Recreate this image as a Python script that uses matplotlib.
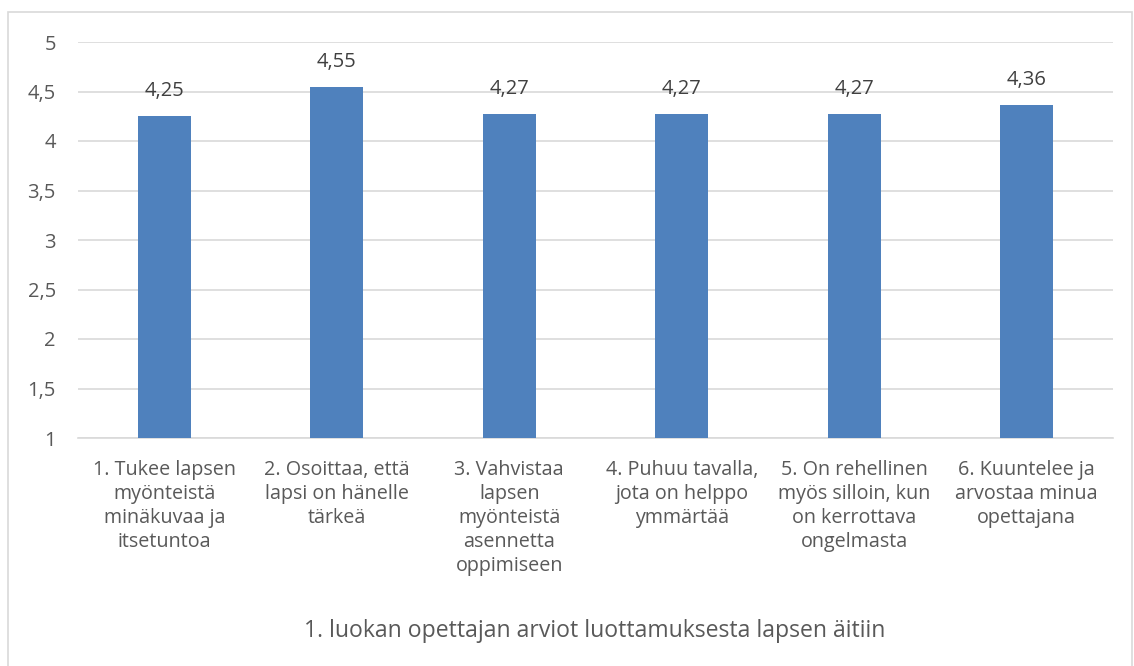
import matplotlib
matplotlib.use("Agg")
import matplotlib.pyplot as plt
from matplotlib.patches import Rectangle

categories = [
    "1. Tukee lapsen\nmyönteistä\nminäkuvaa ja\nitsetuntoa",
    "2. Osoittaa, että\nlapsi on hänelle\ntärkeä",
    "3. Vahvistaa\nlapsen\nmyönteistä\nasennetta\noppimiseen",
    "4. Puhuu tavalla,\njota on helppo\nymmärtää",
    "5. On rehellinen\nmyös silloin, kun\non kerrottava\nongelmasta",
    "6. Kuuntelee ja\narvostaa minua\nopettajana",
]
values = [4.25, 4.55, 4.27, 4.27, 4.27, 4.36]
value_labels = ["4,25", "4,55", "4,27", "4,27", "4,27", "4,36"]
yticks = [1, 1.5, 2, 2.5, 3, 3.5, 4, 4.5, 5]
ytick_labels = ["1", "1,5", "2", "2,5", "3", "3,5", "4", "4,5", "5"]
title = "1. luokan opettajan arviot luottamuksesta lapsen äitiin"

plt.rcParams['font.family'] = ['Open Sans', 'DejaVu Sans']
txt = '#595959'
fig = plt.figure(figsize=(11.34, 6.66), dpi=100)
fig.patches.append(Rectangle((8/1134, -0.05), (1132-8)/1134, 1.05 - 12/666, transform=fig.transFigure,
                             fill=False, edgecolor='#D9D9D9', linewidth=1.2))
ax = fig.add_axes([78/1134, 1 - 438/666, (1113-78)/1134, (438-42)/666])
x = list(range(len(categories)))
ax.bar(x, [v - 1 for v in values], bottom=1, width=0.31, color='#4F81BD', zorder=3)
for xi, v, lab in zip(x, values, value_labels):
    ax.annotate(lab, (xi, v), xytext=(0, 18), textcoords='offset points', ha='center',
                va='center', fontsize=14.5, color='#404040')
ax.set_xlim(-0.5, len(categories) - 0.5)
ax.set_ylim(1, 5)
ax.set_yticks(yticks)
ax.set_yticklabels(ytick_labels, fontsize=14.5, color=txt)
ax.set_xticks(x)
ax.set_xticklabels(categories, fontsize=14.2, color=txt, va='top', linespacing=1.27)
ax.tick_params(axis='both', length=0)
ax.tick_params(axis='y', pad=16)
ax.tick_params(axis='x', pad=15.5)
ax.grid(axis='y', color='#D9D9D9', linewidth=1.2, zorder=0)
for s in ['top', 'right', 'left']:
    ax.spines[s].set_visible(False)
ax.spines['bottom'].set_color('#D9D9D9')
ax.spines['bottom'].set_linewidth(1.2)
fig.text(595/1134, 1 - 631/666, title, ha='center', va='center', fontsize=16.6, color=txt)
fig.savefig('out.png', dpi=100)
